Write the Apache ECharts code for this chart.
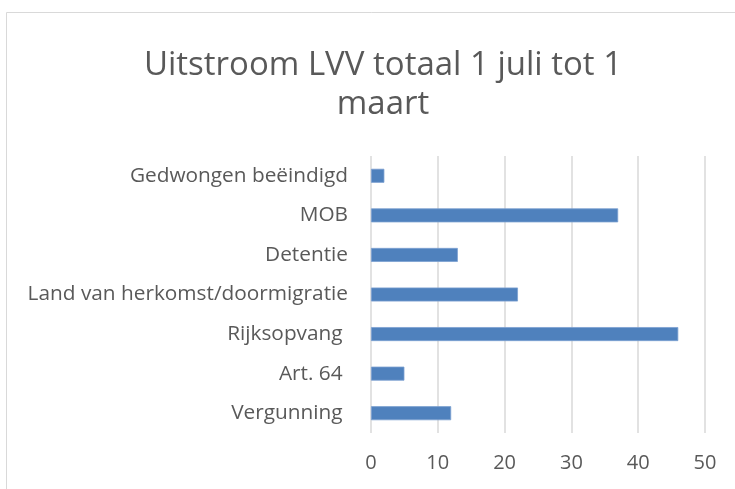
<!DOCTYPE html>
<html><head><meta charset="utf-8">
<script src="https://cdn.jsdelivr.net/npm/echarts@6/dist/echarts.min.js"></script>
<style>html,body{margin:0;padding:0;background:#fff}#c{width:735px;height:489px}</style>
</head><body><div id="c"></div>
<script>
const categories = ['Vergunning ', 'Art. 64 ', 'Rijksopvang ', 'Land van herkomst/doormigratie', 'Detentie', 'MOB', 'Gedwongen beëindigd'];
const values = [12, 5, 46, 22, 13, 37, 2];
const xTicks = [0, 10, 20, 30, 40, 50];
const titleText = 'Uitstroom LVV totaal 1 juli tot 1\nmaart';

const chart = echarts.init(document.getElementById('c'), null, {renderer: 'canvas'});
const FONT = 'Open Sans';
chart.setOption({
  backgroundColor: '#fff',
  animation: false,
  graphic: [{type: 'rect', shape: {x: 6.5, y: 12.5, width: 800, height: 600}, style: {fill: 'none', stroke: '#d9d9d9', lineWidth: 1}, z: -1}],
  title: {text: titleText, left: 378, top: 41, textAlign: 'center',
    textStyle: {fontFamily: FONT, fontSize: 33, fontWeight: 'normal', color: '#595959', lineHeight: 39}},
  grid: {left: 371, right: 30, top: 156, bottom: 56},
  xAxis: {type: 'value', min: xTicks[0], max: xTicks[xTicks.length-1], interval: 10,
    axisLine: {show: false}, axisTick: {show: false},
    axisLabel: {margin: 20, fontFamily: FONT, fontSize: 20, color: '#595959'},
    splitLine: {lineStyle: {color: '#d9d9d9', width: 1.5}}},
  yAxis: {type: 'category', data: categories,
    axisLine: {show: false}, axisTick: {show: false},
    axisLabel: {margin: 23, fontFamily: FONT, fontSize: 20.8, color: '#595959'}},
  series: [{type: 'bar', data: values, barWidth: 14,
    itemStyle: {color: '#4f81bd', borderColor: '#7b9fd0', borderWidth: 0.8}}]
});
</script></body></html>
